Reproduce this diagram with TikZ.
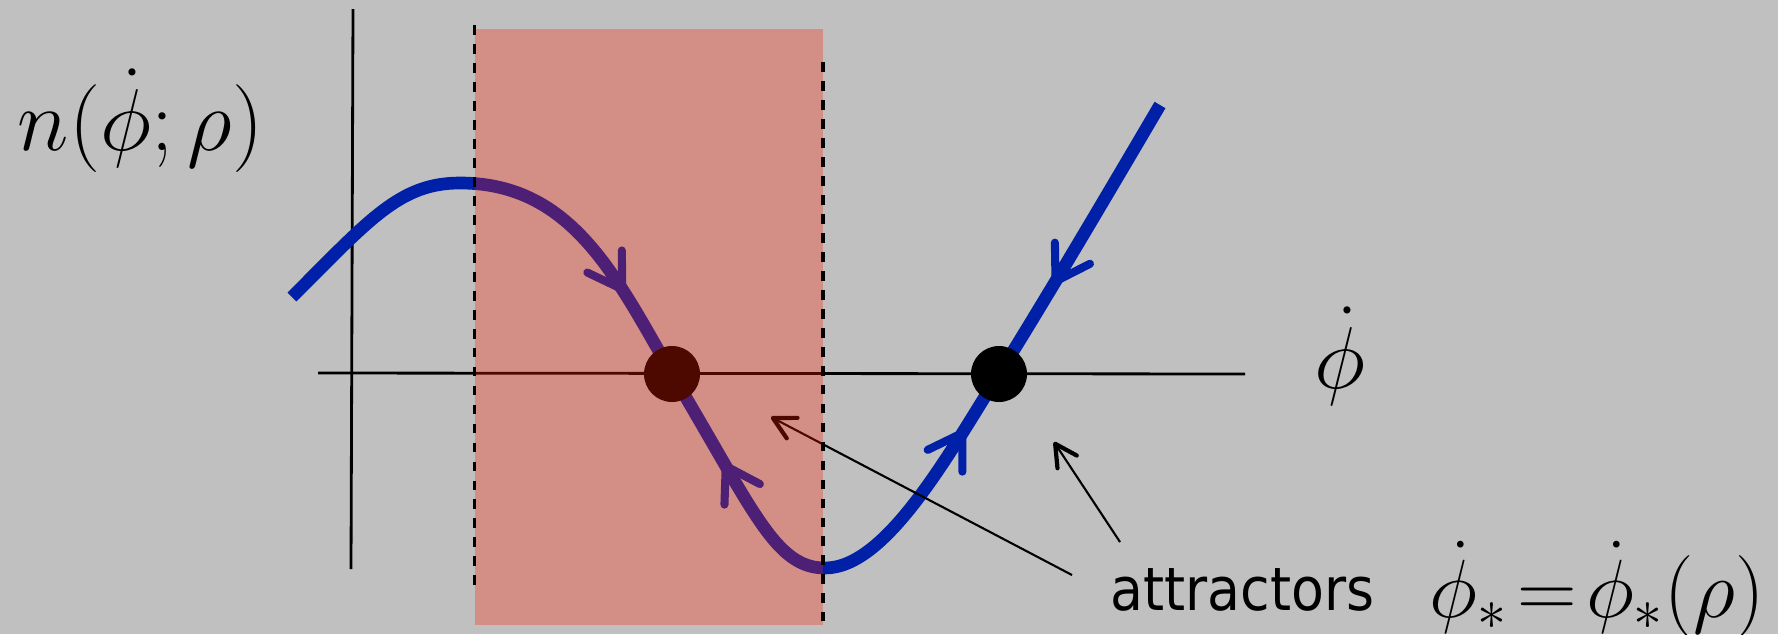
\RequirePackage{fix-cm}
\documentclass[tikz,border=0pt]{standalone}
\usepackage{amsmath}
\usepackage{fontspec}
\usepackage{tikz}
\usetikzlibrary{positioning,arrows.meta,decorations.markings}
\newfontfamily\labelfont{DejaVu Sans Condensed}
\definecolor{flowblue}{HTML}{0020A8}
\definecolor{bandred}{HTML}{FF2000}
\definecolor{bggrey}{HTML}{C0C0C0}
\tikzset{
  flowbarb/.tip={Straight Barb[angle=64:11pt,line width=2.3pt 0,round]},
  notebarb/.tip={Straight Barb[angle=56:7pt,line width=1.2pt 0,round]}
}

\begin{document}
\begin{tikzpicture}[>=notebarb, every node/.style={inner sep=0pt,font=\fontsize{25}{30}\selectfont},
    axis/.style={line width=0.8pt},
    edge/.style={line width=1pt,dash pattern=on 2.8pt off 2.6pt},
    fixpt/.style={circle,fill=black,minimum size=0.56cm},
    flow/.style={flowblue,line width=3.6pt,postaction={decorate},decoration={markings,
      mark=at position 0.309 with {\arrow{flowbarb}},
      mark=at position 0.455 with {\arrowreversed{flowbarb}},
      mark=at position 0.719 with {\arrow{flowbarb}},
      mark=at position 0.845 with {\arrowreversed{flowbarb}}}}]
        \useasboundingbox[fill=bggrey] (0,0) rectangle (17.78,6.34);
        % axes
        \draw[axis] (3.53,6.25) -- (3.51,0.65);
        \draw[axis] (3.18,2.61) -- (12.45,2.60);
        % n(phi dot) curve
        \draw[flow] (2.92,3.37) .. controls (3.70,4.15) and (4.00,4.51) .. (4.60,4.51)
          .. controls (5.72,4.51) and (6.16,3.57) .. (6.72,2.60)
          .. controls (7.54,1.23) and (7.75,0.66) .. (8.25,0.66)
          .. controls (8.85,0.66) and (9.46,1.75) .. (9.99,2.60)
          .. controls (10.50,3.42) and (11.10,4.44) .. (11.60,5.29);
        \node[fixpt] (fixL) at (6.72,2.60) {};
        \node[fixpt] (fixR) at (9.99,2.60) {};
        % labels
        \node[anchor=base west] (ylabel) at (0.17,4.84) {$n(\dot\phi;\rho)$};
        \node[anchor=base] (xlabel) at (13.40,2.46) {$\dot\phi$};
        \node[anchor=base west,font=\labelfont\fontsize{17}{20}\selectfont] (attr) at (11.10,0.24) {attractors};
        \node[anchor=base west,font=\fontsize{23.5}{28}\selectfont] (fixeq) at (14.29,0.17) {$\dot\phi_*\!=\!\dot\phi_*(\rho)$};
        \coordinate (fromL) at (10.72,0.59);
        \coordinate (fromR) at (11.20,0.92);
        \coordinate (tipL) at (7.71,2.17);
        \coordinate (tipR) at (10.54,1.92);
        \draw[->,line width=0.6pt] (fromL) -- (tipL);
        \draw[->,line width=0.6pt] (fromR) -- (tipR);
        % band of rho
        \fill[bandred,opacity=0.3] (4.75,6.05) rectangle (8.23,0.09);
        \draw[edge] (4.745,6.09) -- (4.745,0.48);
        \draw[edge] (8.23,5.72) -- (8.23,0.13);
      \end{tikzpicture}
\end{document}
